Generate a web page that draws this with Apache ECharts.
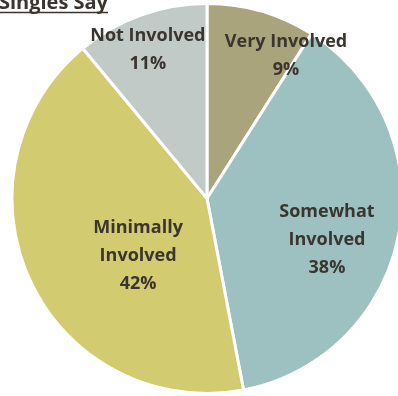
<!DOCTYPE html>
<html><head><meta charset="utf-8">
<script src="https://cdn.jsdelivr.net/npm/echarts@6/dist/echarts.min.js"></script>
<style>html,body{margin:0;padding:0;background:#fff}#c{width:398px;height:396px}</style>
</head><body><div id="c"></div>
<script>
const categories = ['Very Involved', 'Somewhat Involved', 'Minimally Involved', 'Not Involved'];
const values = [9, 38, 42, 11];
const labelTexts = ['Very Involved\n9%', 'Somewhat\nInvolved\n38%', 'Minimally\nInvolved\n42%', 'Not Involved\n11%'];
const colors = ['#a9a47c', '#9dc0c0', '#d2cb6f', '#c1cac7'];
const titleText = 'Singles Say';
// label placement as (fraction of radius, angle in degrees clockwise from top)
const labelPolar = [[0.836, 29], [0.651, 109.1], [0.46, 230.2], [0.82, 338.3]];

const cx = 207, cy = 198.5, R = 195;
const chart = echarts.init(document.getElementById('c'), null, {renderer: 'canvas'});
chart.setOption({
  animation: false,
  graphic: [
    {type: 'text', right: 290, top: -7, style: {text: titleText, font: 'bold 20px "Open Sans"', fill: '#3b3530', textAlign: 'right'}},
    {type: 'line', shape: {x1: 0, y1: 12.5, x2: 108, y2: 12.5}, style: {stroke: '#3b3530', lineWidth: 1.6}}
  ],
  series: [{
    type: 'pie',
    center: [cx, cy],
    radius: [0, R],
    startAngle: 90,
    clockwise: true,
    silent: true,
    itemStyle: {borderColor: '#ffffff', borderWidth: 3},
    label: {
      show: true,
      position: 'inside',
      formatter: p => labelTexts[p.dataIndex],
      color: '#3b3530',
      fontFamily: 'Open Sans',
      fontWeight: 'bold',
      fontSize: 18,
      lineHeight: 28,
      align: 'center'
    },
    labelLayout: p => {
      const lp = labelPolar[p.dataIndex];
      const a = lp[1] * Math.PI / 180;
      return {x: cx + Math.sin(a) * R * lp[0], y: cy - Math.cos(a) * R * lp[0], align: 'center', verticalAlign: 'middle'};
    },
    labelLine: {show: false},
    data: categories.map((c, i) => ({name: c, value: values[i], itemStyle: {color: colors[i]}}))
  }]
});
</script></body></html>
